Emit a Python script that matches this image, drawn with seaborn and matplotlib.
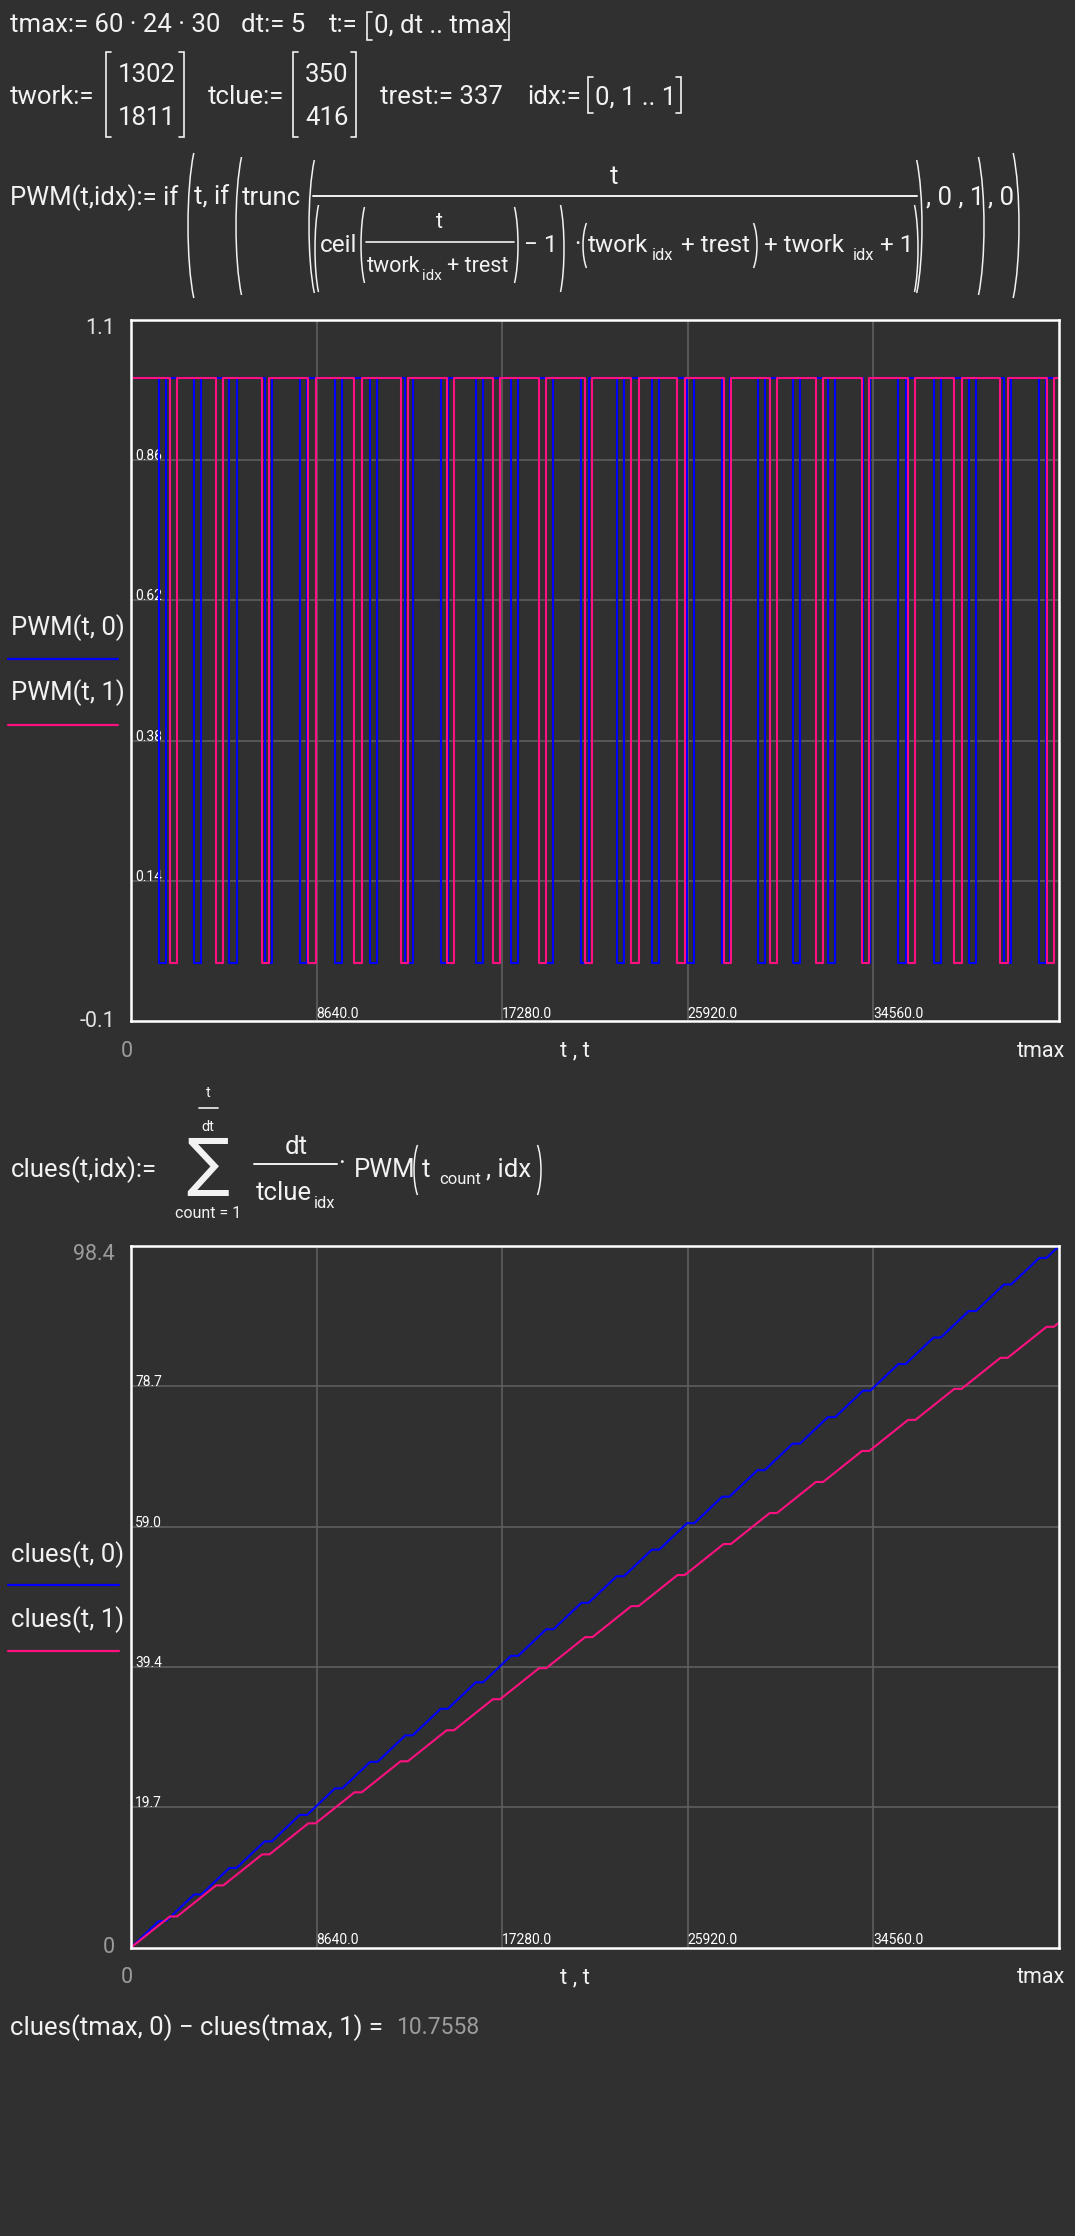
import numpy as np
import pandas as pd
import matplotlib
matplotlib.use("Agg")
import matplotlib.pyplot as plt
import seaborn as sns
from matplotlib.path import Path
from matplotlib.patches import PathPatch

# ---------------- data ----------------
tmax = 43200
x_ticks = [8640, 17280, 25920, 34560]
x_tick_labels = ["8640.0", "17280.0", "25920.0", "34560.0"]

pwm_ylim = [-0.1, 1.1]
pwm_ylim_labels = ["-0.1", "1.1"]
pwm_y_ticks = [0.14, 0.38, 0.62, 0.86]
pwm_y_tick_labels = ["0.14", "0.38", "0.62", "0.86"]

clues_ylim = [0, 98.4]
clues_ylim_labels = ["0", "98.4"]
clues_y_ticks = [19.68, 39.36, 59.04, 78.72]
clues_y_tick_labels = ["19.7", "39.4", "59.0", "78.7"]

tclue = [350, 416]

# switch-on / switch-off times of PWM(t,0)
on_start_0 = [0, 1639, 3278, 4917, 6556, 8195, 9834, 11473, 13112, 14751, 16390,
              18029, 19668, 21307, 22946, 24585, 26224, 27863, 29502, 31141,
              32780, 34419, 36058, 37697, 39336, 40975, 42614]
on_end_0 = [1302, 2941, 4580, 6219, 7858, 9497, 11136, 12775, 14414, 16053, 17692,
            19331, 20970, 22609, 24248, 25887, 27526, 29165, 30804, 32443,
            34082, 35721, 37360, 38999, 40638, 42277, 43200]
# switch-on / switch-off times of PWM(t,1)
on_start_1 = [0, 2148, 4296, 6444, 8592, 10740, 12888, 15036, 17184, 19332, 21480,
              23628, 25776, 27924, 30072, 32220, 34368, 36516, 38664, 40812, 42960]
on_end_1 = [1811, 3959, 6107, 8255, 10403, 12551, 14699, 16847, 18995, 21143, 23291,
            25439, 27587, 29735, 31883, 34031, 36179, 38327, 40475, 42623, 43200]

pwm_names = ["PWM(t, 0)", "PWM(t, 1)"]
clues_names = ["clues(t, 0)", "clues(t, 1)"]
diff_value_text = "10.7558"

# ---------------- styling ----------------
BG = "#303030"
W = "#f2f2f2"
GRAY = "#9c9c9c"
GRID = "#5e5e5e"
BLUE = "#0000ff"
PINK = "#ff1080"
FS = 18.5
FS_DEN = 17.5
FS_IN = 15.5
SUB = 12

sns.set_style("dark", rc={"axes.facecolor": BG, "figure.facecolor": BG})
plt.rcParams["font.family"] = ["Roboto", "DejaVu Sans"]


def pwm_table(starts, ends, name):
    xs, ys = [0], [0]
    for s, e in zip(starts, ends):
        xs += [s, s, e]
        ys += [0, 1, 1]
        if e < tmax:
            xs.append(e)
            ys.append(0)
    return pd.DataFrame({"t": xs, "v": ys, "series": name})


def clues_table(starts, ends, tc, name):
    xs, ys = [0.0], [0.0]
    v = 0.0
    for s, e in zip(starts, ends):
        xs.append(s)
        ys.append(v)
        v += (e - s) / tc
        xs.append(e)
        ys.append(v)
    return pd.DataFrame({"t": xs, "v": ys, "series": name})


pwm_df = pd.concat([pwm_table(on_start_0, on_end_0, pwm_names[0]),
                    pwm_table(on_start_1, on_end_1, pwm_names[1])], ignore_index=True)
clues_df = pd.concat([clues_table(on_start_0, on_end_0, tclue[0], clues_names[0]),
                      clues_table(on_start_1, on_end_1, tclue[1], clues_names[1])],
                     ignore_index=True)

fig = plt.figure(figsize=(10.75, 22.36), dpi=100, facecolor=BG)
bg = fig.add_axes([0, 0, 1, 1])
bg.set_xlim(0, 1075)
bg.set_ylim(2236, 0)
bg.axis("off")


def txt(x, y, s, size=FS, color=W, ha="left", va="center", **kw):
    bg.text(x, y, s, fontsize=size, color=color, ha=ha, va=va, **kw)


def paren(x, y0, y1, left=True, color=W, lw=1.1):
    h = y1 - y0
    w = max(3.5, h * 0.04)
    if left:
        xe, xc = x + w, x - w / 3
    else:
        xe, xc = x - w, x + w / 3
    p = Path([(xe, y0), (xc, y0 + h * 0.25), (xc, y1 - h * 0.25), (xe, y1)],
             [Path.MOVETO, Path.CURVE4, Path.CURVE4, Path.CURVE4])
    bg.add_patch(PathPatch(p, fill=False, edgecolor=color, lw=lw))


def bracket(x, y0, y1, left=True):
    d = 5 if left else -5
    bg.plot([x + d, x, x, x + d], [y0, y0, y1, y1], color=W, lw=1.2,
            solid_joinstyle="miter")


def hline(x0, x1, y, lw=1.4):
    bg.plot([x0, x1], [y, y], color=W, lw=lw)


# ---- line 1 ----
txt(10, 25, "tmax:= 60 · 24 · 30")
txt(241, 25, "dt:= 5")
txt(329, 25, "t:=")
bracket(367, 12, 40, True)
txt(374, 25, "0, dt .. tmax")
bracket(509, 12, 40, False)

# ---- line 2 ----
txt(10, 97, "twork:=")
bracket(106, 52, 137, True)
txt(147, 75, "1302", ha="center")
txt(147, 118, "1811", ha="center")
bracket(184, 52, 137, False)
txt(208, 97, "tclue:=")
bracket(293, 52, 137, True)
txt(327, 75, "350", ha="center")
txt(327, 118, "416", ha="center")
bracket(356, 52, 137, False)
txt(380, 97, "trest:= 337")
txt(527, 97, "idx:=")
bracket(588, 77, 113, True)
txt(595, 97, "0, 1 .. 1")
bracket(681, 77, 113, False)

# ---- line 3 : PWM definition ----
txt(10, 198, "PWM(t,idx):= if")
paren(188, 153, 298, True)
txt(194, 198, "t, if")
paren(236, 157, 295, True)
txt(242, 198, "trunc")
paren(309, 160, 293, True)
hline(313, 917, 196)
txt(614, 177, "t", ha="center")
paren(315, 205, 292, True)
txt(320, 245, "ceil", size=FS_DEN)
paren(361, 207, 283, True)
hline(366, 514, 242, lw=1.2)
txt(439, 223, "t", size=FS_IN, ha="center")
txt(367, 267, "twork", size=FS_IN)
txt(422, 276, "idx", size=11)
txt(447, 267, "+ trest", size=FS_IN)
paren(518, 207, 283, False)
txt(524, 245, "− 1", size=FS_DEN)
paren(564, 205, 292, False)
txt(577, 245, "·", ha="center", size=FS_DEN)
paren(583, 223, 268, True)
txt(588, 245, "twork", size=FS_DEN)
txt(652, 255, "idx", size=SUB)
txt(681, 245, "+ trest", size=FS_DEN)
paren(757, 223, 268, False)
txt(764, 245, "+ twork", size=FS_DEN)
txt(853, 255, "idx", size=SUB)
txt(880, 245, "+ 1", size=FS_DEN)
paren(918, 205, 292, False)
paren(922, 160, 293, False)
txt(926, 198, ", 0 , 1")
paren(984, 157, 295, False)
txt(988, 198, ", 0")
paren(1019, 153, 298, False)

# ---- clues definition ----
txt(11, 1170, "clues(t,idx):=")
bg.text(208, 1166, "∑", fontsize=46, color=W, ha="center", va="center",
        family=["DejaVu Sans"])
txt(208, 1093, "t", size=10.5, ha="center")
hline(199, 218, 1108, lw=1.2)
txt(208, 1127, "dt", size=10.5, ha="center")
txt(208, 1213, "count = 1", size=11.5, ha="center")
txt(296, 1147, "dt", ha="center")
hline(254, 337, 1164)
txt(256, 1193, "tclue")
txt(314, 1203, "idx", size=SUB)
txt(342, 1164, "·", ha="center")
txt(354, 1170, "PWM")
paren(414, 1145, 1195, True)
txt(422, 1170, "t")
txt(439, 1180, "count", size=SUB)
txt(486, 1170, ", idx")
paren(541, 1145, 1195, False)

# ---- bottom result ----
txt(10, 2028, "clues(tmax, 0) − clues(tmax, 1) =")
txt(396, 2028, diff_value_text, size=16.5, color=GRAY)

# ---- legends ----
txt(11, 628, pwm_names[0])
bg.plot([8, 118], [659, 659], color=BLUE, lw=1.6)
txt(11, 693, pwm_names[1])
bg.plot([8, 118], [725, 725], color=PINK, lw=1.6)

txt(11, 1555, clues_names[0])
bg.plot([8, 119], [1585, 1585], color=BLUE, lw=1.6)
txt(11, 1620, clues_names[1])
bg.plot([8, 119], [1651, 1651], color=PINK, lw=1.6)


# ---------------- plot axes ----------------
def style_axes(ax, ylim, ylim_labels, yticks, yticklabels, top_color):
    ax.set_facecolor(BG)
    ax.set_xlim(0, tmax)
    ax.set_ylim(*ylim)
    ax.set_xticks(x_ticks)
    ax.set_xticklabels(x_tick_labels)
    ax.set_yticks(yticks)
    ax.set_yticklabels(yticklabels)
    ax.grid(True, color=GRID, lw=1.2)
    ax.set_axisbelow(True)
    for sp in ax.spines.values():
        sp.set_visible(True)
        sp.set_color("white")
        sp.set_linewidth(1.8)
    ax.tick_params(axis="both", direction="inout", length=5, width=1.3,
                   color="white", labelcolor="white", labelsize=10)
    ax.tick_params(axis="x", pad=-5.0)
    ax.tick_params(axis="y", pad=-5.4)
    for lab in ax.get_xticklabels():
        lab.set_ha("left")
        lab.set_va("baseline")
    for lab in ax.get_yticklabels():
        lab.set_ha("left")
        lab.set_va("baseline")
    ax.set_xlabel("")
    ax.set_ylabel("")
    ax.annotate(ylim_labels[1], xy=(0, 1), xycoords="axes fraction", xytext=(-16, -8),
                textcoords="offset pixels", ha="right", va="center", fontsize=15.5,
                color=top_color)
    ax.annotate(ylim_labels[0], xy=(0, 0), xycoords="axes fraction", xytext=(-16, 0),
                textcoords="offset pixels", ha="right", va="center", fontsize=15.5,
                color=top_color)
    ax.annotate("0", xy=(0, 0), xycoords="axes fraction", xytext=(-4, -30),
                textcoords="offset pixels", ha="center", va="center", fontsize=15.5,
                color=GRAY)
    ax.annotate("t , t", xy=(0.478, 0), xycoords="axes fraction", xytext=(0, -30),
                textcoords="offset pixels", ha="center", va="center", fontsize=16,
                color=W)
    ax.annotate("tmax", xy=(1, 0), xycoords="axes fraction", xytext=(6, -30),
                textcoords="offset pixels", ha="right", va="center", fontsize=15.5,
                color=W)


ax1 = fig.add_axes([131 / 1075, 1 - 1021 / 2236, 928 / 1075, 701 / 2236])
sns.lineplot(data=pwm_df, x="t", y="v", hue="series", palette=[BLUE, PINK],
             sort=False, estimator=None, legend=False, linewidth=1.5, ax=ax1)
style_axes(ax1, pwm_ylim, pwm_ylim_labels, pwm_y_ticks, pwm_y_tick_labels, "#e4e4e4")

ax2 = fig.add_axes([131 / 1075, 1 - 1947.5 / 2236, 928 / 1075, 701.5 / 2236])
sns.lineplot(data=clues_df, x="t", y="v", hue="series", palette=[BLUE, PINK],
             sort=False, estimator=None, legend=False, linewidth=1.5, ax=ax2)
style_axes(ax2, clues_ylim, clues_ylim_labels, clues_y_ticks, clues_y_tick_labels, GRAY)

fig.savefig("out.png", dpi=100, facecolor=BG)
